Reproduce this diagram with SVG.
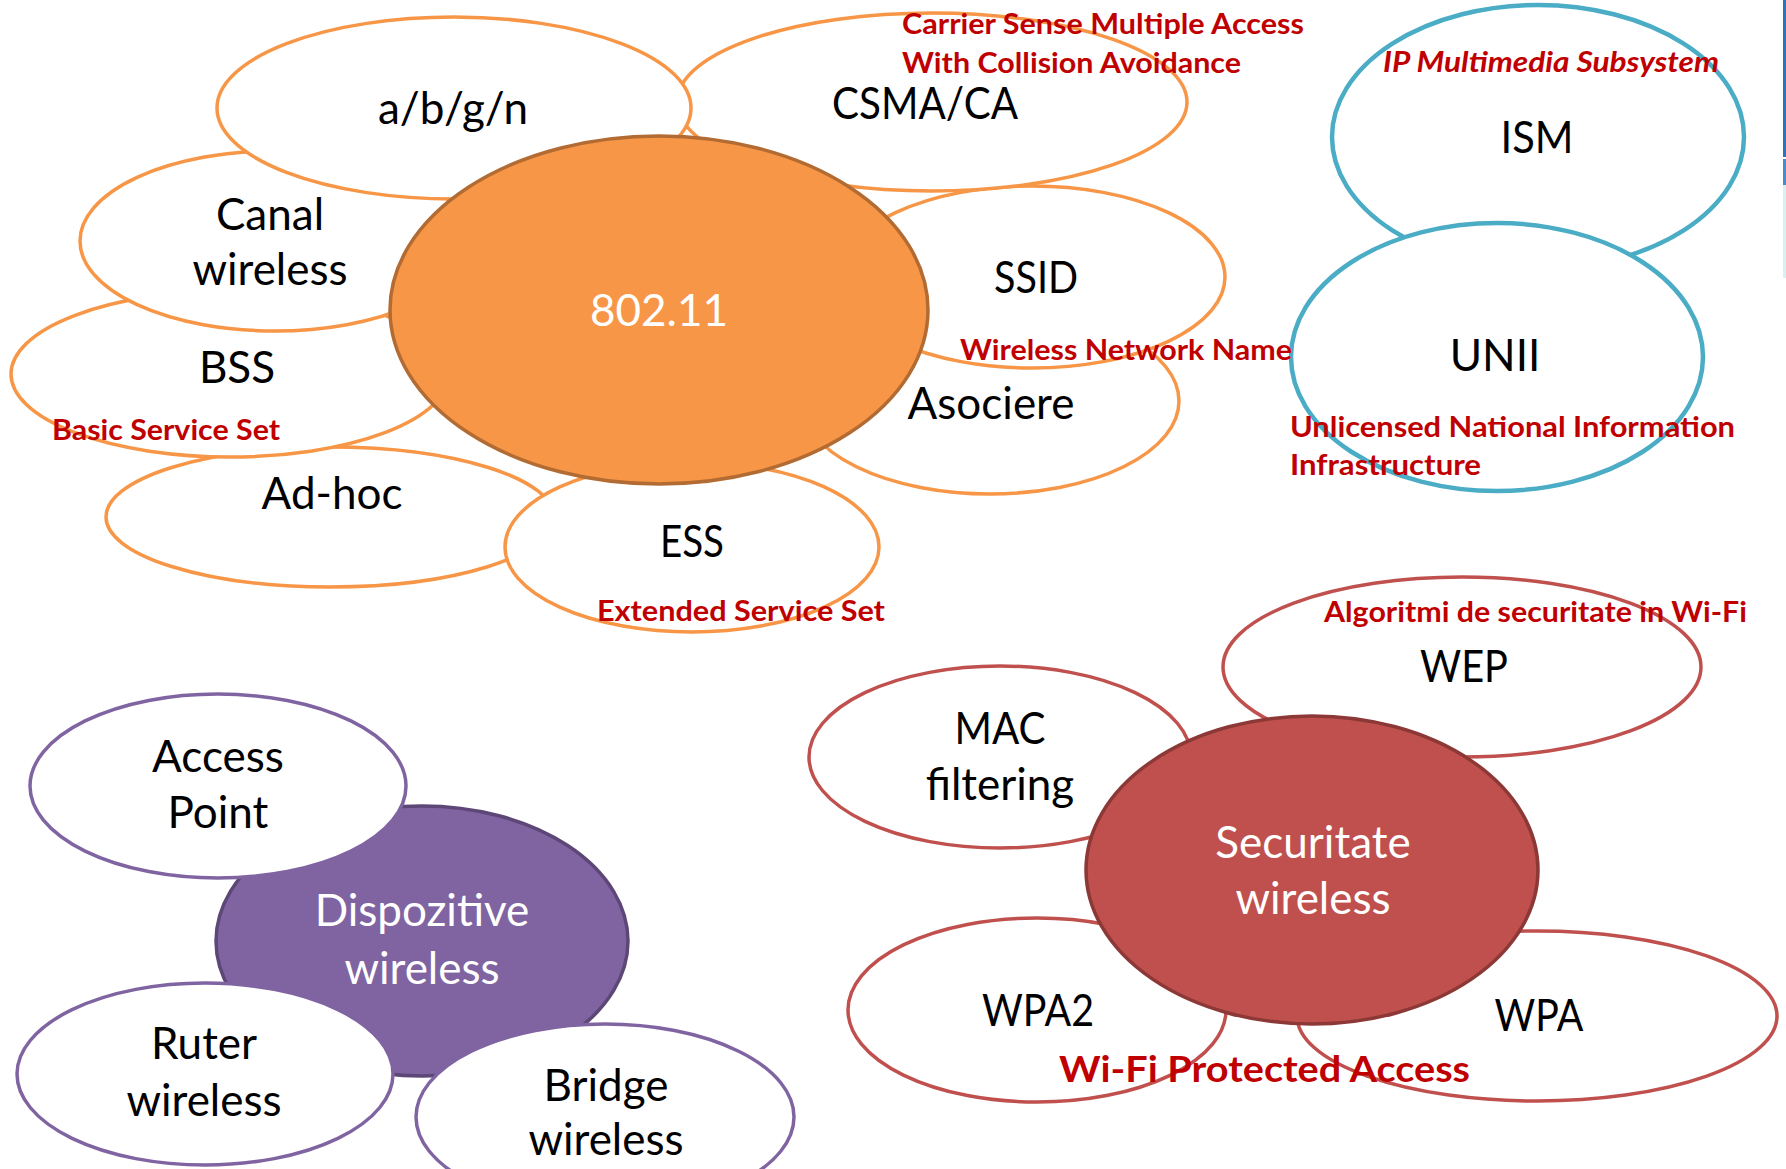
<svg xmlns="http://www.w3.org/2000/svg" width="1786" height="1169" viewBox="0 0 1786 1169">
<style>
.os{fill:#fff;stroke:#F79646;stroke-width:3.5}
.oc{fill:#F79646;stroke:#B26B32;stroke-width:3.5}
.bs{fill:#fff;stroke:#4BACC6;stroke-width:4.5}
.ps{fill:#fff;stroke:#8064A2;stroke-width:3.5}
.pc{fill:#8064A2;stroke:#5C4776;stroke-width:3.5}
.rs{fill:#fff;stroke:#C0504D;stroke-width:3.5}
.rc{fill:#C0504D;stroke:#8C3836;stroke-width:3.5}
.t{font-family:Lato,"Open Sans",sans-serif;font-size:44px;fill:#000;text-anchor:middle}
.w{fill:#fff}
.a{font-family:Lato,"Open Sans",sans-serif;font-size:29px;font-weight:bold;fill:#C00000}
.ai{font-style:italic}
.big{font-size:37px}
</style>
<rect width="1786" height="1169" fill="#fff"/>
<g id="edge-bar">
<rect x="1783" y="0" width="3" height="157" fill="#2F74B8"/>
<rect x="1783" y="159" width="3" height="26" fill="#4A8BCB"/>
<rect x="1783" y="185" width="3" height="93" fill="#DAF1F3"/>
</g>
<g id="connectors"></g>
<!-- Orange group -->
<g id="adhoc"><ellipse class="os" cx="330" cy="517" rx="224" ry="70"/><text class="t" x="332" y="509">Ad-hoc</text></g>
<g id="asociere"><ellipse class="os" cx="990" cy="401" rx="189" ry="93"/><text class="t" x="991" y="419">Asociere</text></g>
<g id="ess"><ellipse class="os" cx="692" cy="547" rx="187" ry="85"/><text class="t" x="692" y="557" textLength="64" lengthAdjust="spacingAndGlyphs">ESS</text></g>
<g id="bss"><ellipse class="os" cx="230" cy="374" rx="219" ry="83"/><text class="t" x="237" y="383">BSS</text></g>
<g id="ssid"><ellipse class="os" cx="1032" cy="277" rx="193" ry="91"/><text class="t" x="1036" y="293" textLength="84" lengthAdjust="spacingAndGlyphs">SSID</text></g>
<g id="canal"><ellipse class="os" cx="275" cy="241" rx="195" ry="90"/><text class="t" x="270" y="230">Canal</text><text class="t" x="270" y="285">wireless</text></g>
<g id="csma"><ellipse class="os" cx="932" cy="102" rx="255" ry="89"/><text class="t" x="925" y="119" textLength="186" lengthAdjust="spacingAndGlyphs">CSMA/CA</text></g>
<g id="abgn"><ellipse class="os" cx="454" cy="108" rx="237" ry="91"/><text class="t" x="453" y="124">a/b/g/n</text></g>
<g id="n80211"><ellipse class="oc" cx="659" cy="310" rx="269" ry="174"/><text class="t w" x="659" y="326">802.11</text></g>
<!-- Blue group -->
<g id="ism"><ellipse class="bs" cx="1538" cy="137" rx="206" ry="132"/><text class="t" x="1537" y="153" textLength="73" lengthAdjust="spacingAndGlyphs">ISM</text></g>
<g id="unii"><ellipse class="bs" cx="1497" cy="357" rx="206" ry="134"/><text class="t" x="1495" y="371">UNII</text></g>
<!-- Purple group -->
<g id="dispozitive"><ellipse class="pc" cx="422" cy="941" rx="206" ry="135"/><text class="t w" x="422" y="926">Dispozitive</text><text class="t w" x="422" y="984">wireless</text></g>
<g id="accesspoint"><ellipse class="ps" cx="218" cy="786" rx="188" ry="92"/><text class="t" x="218" y="772">Access</text><text class="t" x="218" y="828">Point</text></g>
<g id="ruter"><ellipse class="ps" cx="205" cy="1074" rx="188" ry="91"/><text class="t" x="204" y="1059">Ruter</text><text class="t" x="204" y="1116">wireless</text></g>
<g id="bridge"><ellipse class="ps" cx="605" cy="1117" rx="189" ry="93"/><text class="t" x="606" y="1101">Bridge</text><text class="t" x="606" y="1155">wireless</text></g>
<!-- Red group -->
<g id="wep"><ellipse class="rs" cx="1462" cy="667" rx="239" ry="90"/><text class="t" x="1464" y="682" textLength="88" lengthAdjust="spacingAndGlyphs">WEP</text></g>
<g id="mac"><ellipse class="rs" cx="1000" cy="757" rx="191" ry="91"/><text class="t" x="1000" y="744" textLength="91" lengthAdjust="spacingAndGlyphs">MAC</text><text class="t" x="1000" y="800">filtering</text></g>
<g id="wpa2"><ellipse class="rs" cx="1037" cy="1010" rx="189" ry="92"/><text class="t" x="1038" y="1026" textLength="112" lengthAdjust="spacingAndGlyphs">WPA2</text></g>
<g id="wpa"><ellipse class="rs" cx="1537" cy="1016" rx="240" ry="85"/><text class="t" x="1539" y="1031" textLength="89" lengthAdjust="spacingAndGlyphs">WPA</text></g>
<g id="securitate"><ellipse class="rc" cx="1312" cy="870" rx="226" ry="154"/><text class="t w" x="1313" y="858">Securitate</text><text class="t w" x="1313" y="914">wireless</text></g>
<!-- Annotations -->
<g id="annotations">
<text class="a" x="902" y="34" textLength="402" lengthAdjust="spacingAndGlyphs">Carrier Sense Multiple Access</text>
<text class="a" x="902" y="73" textLength="339" lengthAdjust="spacingAndGlyphs">With Collision Avoidance</text>
<text class="a ai" x="1383" y="72" textLength="336" lengthAdjust="spacingAndGlyphs">IP Multimedia Subsystem</text>
<text class="a" x="960" y="360" textLength="332" lengthAdjust="spacingAndGlyphs">Wireless Network Name</text>
<text class="a" x="1290" y="437" textLength="445" lengthAdjust="spacingAndGlyphs">Unlicensed National Information</text>
<text class="a" x="1290" y="475" textLength="191" lengthAdjust="spacingAndGlyphs">Infrastructure</text>
<text class="a" x="52" y="440" textLength="228" lengthAdjust="spacingAndGlyphs">Basic Service Set</text>
<text class="a" x="597" y="621" textLength="288" lengthAdjust="spacingAndGlyphs">Extended Service Set</text>
<text class="a" x="1324" y="622" textLength="423" lengthAdjust="spacingAndGlyphs">Algoritmi de securitate in Wi-Fi</text>
<text class="a big" x="1059" y="1082" textLength="411" lengthAdjust="spacingAndGlyphs">Wi-Fi Protected Access</text>
</g>
</svg>
